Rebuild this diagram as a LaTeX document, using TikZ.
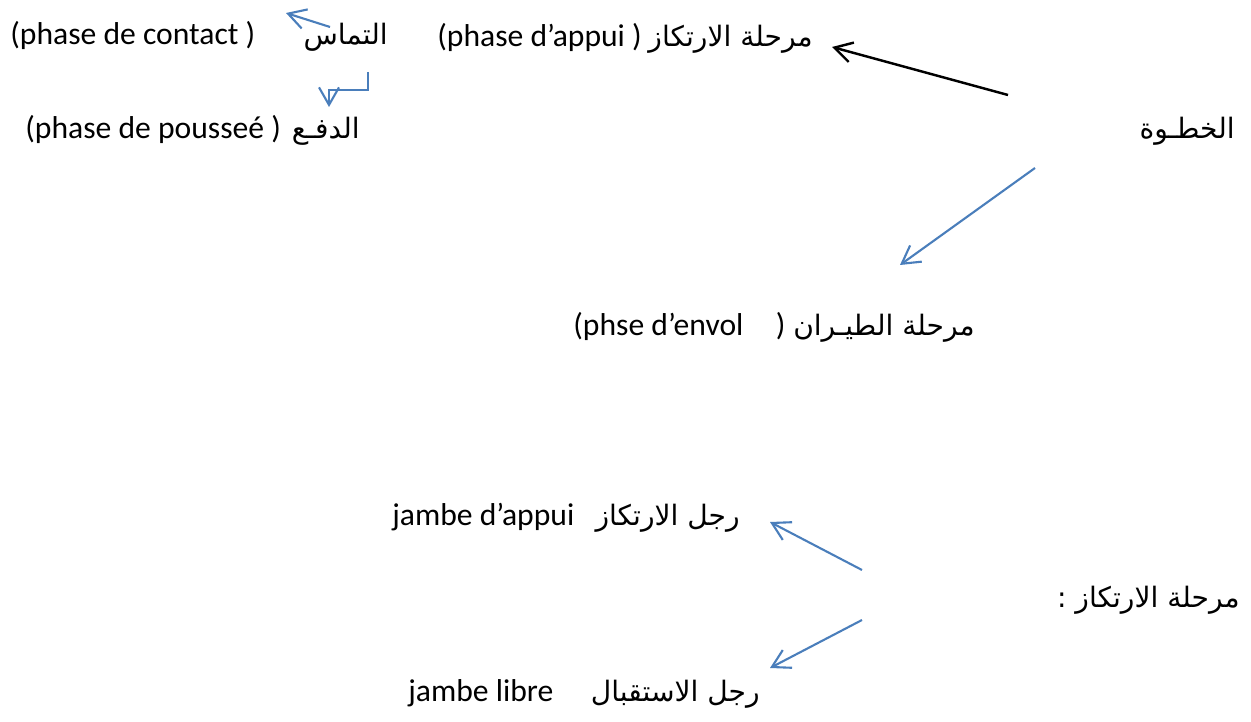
\documentclass[tikz,border=0pt]{standalone}
\usepackage{fontspec}
\setmainfont{Carlito}
\newfontfamily\arabicfont[Script=Arabic]{DejaVu Sans}
\TeXXeTstate=1
\usetikzlibrary{arrows.meta}
\definecolor{wordblue}{RGB}{74,126,187}

\tikzset{
	lat/.style={inner sep=0pt, anchor=base west, font=\fontsize{18}{20}\selectfont},
	arb/.style={inner sep=0pt, anchor=base east, font=\fontsize{16}{20}\selectfont\arabicfont},
	barb/.style={-{Straight Barb[length=3.5mm,width=4mm]}},
	bluearrow/.style={barb, draw=wordblue, line width=1.2pt},
	blackarrow/.style={barb, draw=black, line width=1.4pt}
}

\begin{document}
\begin{tikzpicture}[x=0.02cm,y=-0.02cm]
	\useasboundingbox (0,0) rectangle (1251,722);
	% the stride and its two phases
	\node[arb] (khatwa) at (1235,139) {\beginR الخطـوة\endR};
	\node[lat] (appuifr) at (437,47) {(phase d’appui )};
	\node[arb] (appuiar) at (813,47) {\beginR مرحلة الارتكاز\endR};
	\node[lat] (envolfr) at (573,336) {(phse d’envol\hspace{0.65cm})};
	\node[arb] (envolar) at (975,336) {\beginR مرحلة الطيـران\endR};
	% sub-phases of the support phase
	\node[lat] (contactfr) at (10,45) {(phase de contact )};
	\node[arb] (contactar) at (388,45) {\beginR التماس\endR};
	\node[lat] (pousseefr) at (25,139) {(phase de pousseé )};
	\node[arb] (pousseear) at (360,139) {\beginR الدفـع\endR};
	% the two legs
	\node[arb] (irtikaz) at (1240,607) {\beginR مرحلة الارتكاز :\endR};
	\node[lat] (jappuifr) at (392,526) {jambe d’appui};
	\node[arb] (jappuiar) at (740,526) {\beginR رجل الارتكاز\endR};
	\node[lat] (jlibrefr) at (408,701) {jambe libre};
	\node[arb] (jlibrear) at (760,701) {\beginR رجل الاستقبال\endR};

	\coordinate (khatwa-up) at (1008,95);
	\coordinate (khatwa-dn) at (1035,168);
	\coordinate (appui-in) at (832,47);
	\coordinate (envol-in) at (900,265);
	\coordinate (contact-out) at (330,27);
	\coordinate (contact-in) at (286,13);
	\coordinate (poussee-out) at (368,72);
	\coordinate (poussee-in) at (329,107);
	\coordinate (irtikaz-up) at (862,570);
	\coordinate (irtikaz-dn) at (862,620);
	\coordinate (jappui-in) at (770,522);
	\coordinate (jlibre-in) at (770,668);

	\draw[blackarrow] (khatwa-up) -- (appui-in);
	\draw[bluearrow] (khatwa-dn) -- (envol-in);
	\draw[bluearrow] (contact-out) -- (contact-in);
	\draw[bluearrow] (poussee-out) |- (poussee-in |- 0,90) -- (poussee-in);
	\draw[bluearrow] (irtikaz-up) -- (jappui-in);
	\draw[bluearrow] (irtikaz-dn) -- (jlibre-in);
\end{tikzpicture}
\end{document}
